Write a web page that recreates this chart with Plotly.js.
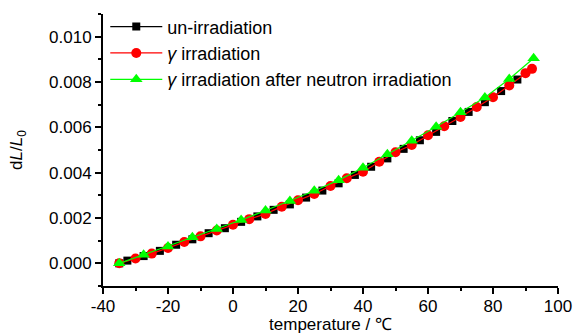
<!DOCTYPE html>
<html>
<head>
<meta charset="utf-8">
<script src="https://cdn.plot.ly/plotly-3.0.1.min.js"></script>
<style>html,body{margin:0;padding:0;background:#fff;}#chart{width:575px;height:334px;}</style>
</head>
<body>
<div id="chart"></div>
<script>
// un-irradiation (black squares)
const blackX = [-35, -32.5, -27.5, -22.5, -17.5, -12.5, -7.5, -2.5, 2.5, 7.5, 12.5, 17.5, 22.5, 27.5, 32.5, 37.5, 42.5, 47.5, 52.5, 57.5, 62.5, 67.5, 72.5, 77.5, 82.5, 87.5];
const blackY = [0.00000, 0.00012, 0.00032, 0.00055, 0.00082, 0.00106, 0.00133, 0.00155, 0.00183, 0.00207, 0.00236, 0.00260, 0.00290, 0.00321, 0.00353, 0.00390, 0.00426, 0.00463, 0.00505, 0.00543, 0.00580, 0.00628, 0.00668, 0.00711, 0.00760, 0.00811];
// gamma irradiation (red circles)
const redX = [-35, -30, -25, -20, -15, -10, -5, 0, 5, 10, 15, 20, 25, 30, 35, 40, 45, 50, 55, 60, 65, 70, 75, 80, 85, 90, 92];
const redY = [0.00000, 0.00021, 0.00043, 0.00068, 0.00094, 0.00119, 0.00145, 0.00170, 0.00195, 0.00218, 0.00250, 0.00278, 0.00306, 0.00341, 0.00375, 0.00404, 0.00448, 0.00490, 0.00522, 0.00565, 0.00605, 0.00646, 0.00690, 0.00733, 0.00785, 0.00839, 0.00858];
// gamma irradiation after neutron irradiation (green triangles)
const greenX = [-35, -27.5, -20, -12.5, -5, 2.5, 10, 17.5, 25, 32.5, 40, 47.5, 55, 62.5, 70, 77.5, 85, 92.5];
const greenY = [0.00000, 0.00038, 0.00074, 0.00115, 0.00151, 0.00191, 0.00233, 0.00275, 0.00320, 0.00367, 0.00422, 0.00481, 0.00541, 0.00603, 0.00667, 0.00732, 0.00813, 0.00905];

// tick labels
const xTickVals = [-40, -20, 0, 20, 40, 60, 80, 100];
const xTickText = ['-40', '-20', '0', '20', '40', '60', '80', '100'];
const yTickVals = [0, 0.002, 0.004, 0.006, 0.008, 0.010];
const yTickText = ['0.000', '0.002', '0.004', '0.006', '0.008', '0.010'];

const gamma = '<i>γ</i>';
const names = ['un-irradiation', gamma + ' irradiation', gamma + ' irradiation after neutron irradiation'];

const traces = [
  {x: blackX, y: blackY, name: names[0], legendgroup: 'a', mode: 'lines+markers', type: 'scatter',
   line: {color: '#000000', width: 1.2}, marker: {symbol: 'square', size: 8, color: '#000000'}},
  {x: redX, y: redY, name: names[1], legendgroup: 'b', mode: 'lines+markers', type: 'scatter',
   line: {color: '#ff0000', width: 1.2}, marker: {symbol: 'circle', size: 10, color: '#ff0000'}},
  {x: greenX, y: greenY, name: names[2], legendgroup: 'c', mode: 'lines+markers', type: 'scatter',
   line: {color: '#00ff00', width: 1.2}, marker: {symbol: 'triangle-up', size: 11, color: '#00ff00'}}
];

const layout = {
  width: 575, height: 334,
  margin: {l: 103, r: 17, t: 5, b: 48},
  paper_bgcolor: '#ffffff', plot_bgcolor: '#ffffff',
  font: {family: 'Liberation Sans, Arial, sans-serif', size: 17, color: '#000'},
  showlegend: true,
  legend: {x: 0.005, y: 0.988, xanchor: 'left', yanchor: 'top', bgcolor: 'rgba(0,0,0,0)',
           font: {size: 18, color: '#000'}, tracegroupgap: 4, itemwidth: 52, traceorder: 'normal'},
  xaxis: {
    range: [-40, 100], tickvals: xTickVals, ticktext: xTickText,
    showgrid: false, zeroline: false, showline: true, linecolor: '#000', linewidth: 2,
    ticks: 'outside', ticklen: 6, tickwidth: 2, tickcolor: '#000',
    minor: {tickvals: [-30, -10, 10, 30, 50, 70, 90], ticks: 'outside', ticklen: 3, tickwidth: 2, tickcolor: '#000', showgrid: false},
    tickfont: {size: 17}, ticklabelstandoff: -2,
    title: {text: 'temperature / ℃', font: {size: 17}, standoff: 8},
    automargin: false
  },
  yaxis: {
    domain: [0, 272 / 281],
    range: [-0.001, 0.011], tickvals: yTickVals, ticktext: yTickText,
    showgrid: false, zeroline: false, showline: true, linecolor: '#000', linewidth: 2,
    ticks: 'outside', ticklen: 6, tickwidth: 2, tickcolor: '#000',
    minor: {tickvals: [-0.001, 0.001, 0.003, 0.005, 0.007, 0.009, 0.011], ticks: 'outside', ticklen: 3, tickwidth: 2, tickcolor: '#000', showgrid: false},
    tickfont: {size: 17},
    title: {text: 'd<i>L</i>/<i>L</i><sub>0</sub>', font: {size: 17}, standoff: 22},
    automargin: false
  }
};

Plotly.newPlot('chart', traces, layout, {displayModeBar: false, staticPlot: true});
</script>
</body>
</html>
